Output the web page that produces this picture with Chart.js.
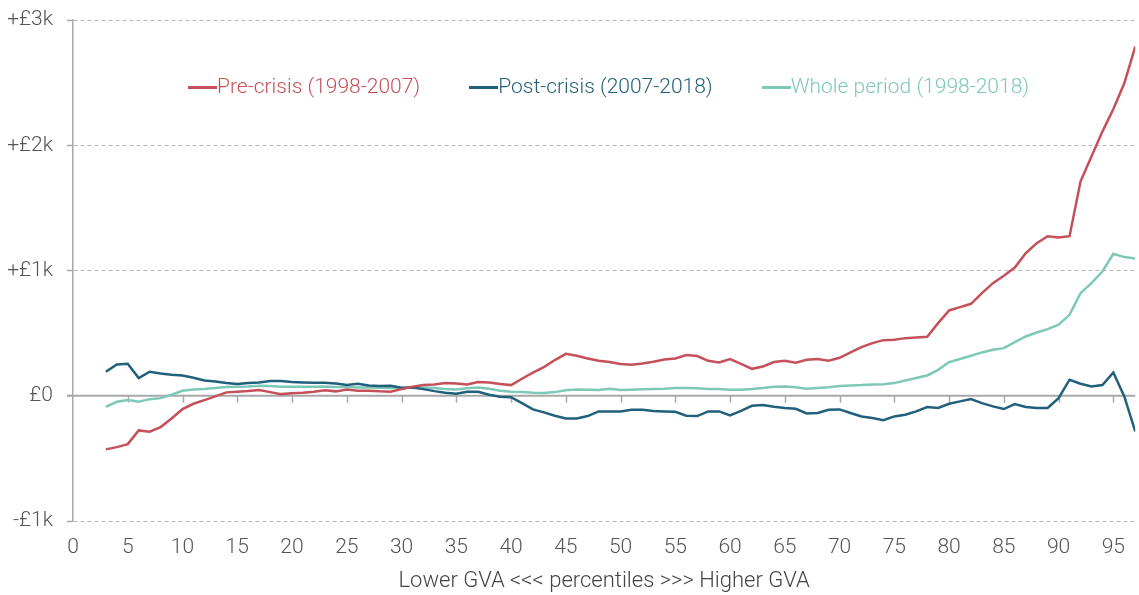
<!DOCTYPE html>
<html lang="en">
<head>
<meta charset="utf-8">
<title>GVA change by percentile</title>
<script src="https://cdn.jsdelivr.net/npm/chart.js@4.4.1/dist/chart.umd.min.js"></script>
<style>
    html, body { margin: 0; padding: 0; background: #fff; }
    #wrap { position: relative; width: 1139px; height: 595px; }
    #legend {
        position: absolute; top: 73px; left: 188px;
        display: flex; gap: 49px;
        font-family: Roboto, "Noto Sans", sans-serif; font-weight: 300; font-size: 21px; line-height: 26px;
    }
    #legend span.item { display: flex; align-items: center; white-space: nowrap; }
    #legend span.swatch { display: inline-block; width: 29px; height: 3px; margin-top: 3px; }
</style>
</head>
<body>
<div id="wrap">
    <canvas id="gvaChart"></canvas>
    <div id="legend"></div>
</div>
<script>
/* ===== DATOS ===== */
const percentiles = [3, 4, 5, 6, 7, 8, 9, 10, 11, 12, 13, 14, 15, 16, 17, 18, 19, 20, 21, 22, 23, 24, 25, 26, 27, 28, 29, 30,
    31, 32, 33, 34, 35, 36, 37, 38, 39, 40, 41, 42, 43, 44, 45, 46, 47, 48, 49, 50, 51, 52, 53, 54, 55, 56, 57, 58, 59, 60,
    61, 62, 63, 64, 65, 66, 67, 68, 69, 70, 71, 72, 73, 74, 75, 76, 77, 78, 79, 80, 81, 82, 83, 84, 85, 86, 87, 88, 89, 90,
    91, 92, 93, 94, 95, 96, 97];

// Pre-crisis (1998-2007)
const preCrisis = [-428, -410, -386, -277, -287, -250, -181, -106, -64, -35, -5, 27, 32, 37, 45, 29, 13, 19, 24, 32, 43, 35, 50, 40, 40,
    35, 32, 53, 72, 85, 90, 101, 98, 90, 109, 106, 93, 85, 136, 184, 229, 285, 335, 319, 298, 279, 269, 253,
    247, 258, 271, 290, 298, 325, 317, 279, 266, 293, 255, 215, 234, 269, 279, 263, 287, 293, 279, 303, 346, 388, 420, 444,
    447, 460, 466, 471, 580, 681, 708, 734, 819, 899, 958, 1024, 1138, 1218, 1274, 1264, 1274, 1710, 1910, 2109, 2290, 2495, 2788];

// Post-crisis (2007-2018)
const postCrisis = [192, 250, 255, 141, 192, 178, 168, 162, 144, 122, 114, 101, 93, 101, 106, 117, 117, 109, 106, 104, 104, 98, 85, 96, 82,
    77, 80, 64, 66, 53, 37, 24, 16, 32, 32, 8, -8, -11, -59, -109, -133, -160, -181, -181, -162, -125, -125, -125,
    -112, -112, -122, -125, -128, -160, -162, -125, -125, -157, -120, -80, -74, -88, -98, -104, -141, -138, -112, -109, -138, -165, -178, -196,
    -165, -152, -125, -90, -98, -64, -45, -27, -59, -85, -106, -66, -90, -98, -98, -19, 128, 96, 74, 85, 186, -5, -285];

// Whole period (1998-2018)
const wholePeriod = [-88, -48, -35, -48, -27, -19, 8, 40, 50, 53, 61, 69, 72, 74, 80, 77, 72, 72, 72, 72, 74, 69, 69, 66, 66,
    64, 61, 59, 66, 66, 61, 53, 50, 59, 66, 56, 40, 32, 29, 24, 21, 29, 43, 50, 48, 45, 56, 46,
    48, 51, 53, 56, 61, 61, 59, 53, 53, 48, 48, 53, 61, 72, 74, 67, 56, 61, 67, 77, 82, 85, 90, 92,
    101, 122, 141, 162, 207, 269, 293, 319, 346, 367, 380, 428, 473, 505, 532, 567, 646, 819, 899, 992, 1133, 1107, 1096];

const seriesLabels = ['Pre-crisis (1998-2007)', 'Post-crisis (2007-2018)', 'Whole period (1998-2018)'];
const seriesColors = ['#c6505a', '#21607a', '#7ec8b7'];

const yTickLabels = { '-1000': '-£1k', '0': '£0', '1000': '+£1k', '2000': '+£2k', '3000': '+£3k' };
const xTitle = 'Lower GVA <<< percentiles >>> Higher GVA';

const FONT = 'Roboto, "Noto Sans", sans-serif';

// Línea de cero con marcas del eje x
const zeroAxisPlugin = {
    id: 'zeroAxis',
    beforeDatasetsDraw(chart) {
        const { ctx, scales: { x, y }, chartArea } = chart;
        const y0 = y.getPixelForValue(0);
        ctx.save();
        ctx.strokeStyle = '#a8a8a8';
        ctx.lineWidth = 2;
        ctx.beginPath();
        ctx.moveTo(chartArea.left - 6, y0);
        ctx.lineTo(chartArea.right, y0);
        ctx.stroke();
        ctx.lineWidth = 1.5;
        x.ticks.forEach(t => {
            if (t.value === 0) return;
            const px = Math.round(x.getPixelForValue(t.value)) + 0.5;
            ctx.beginPath();
            ctx.moveTo(px, y0);
            ctx.lineTo(px, y0 + 7);
            ctx.stroke();
        });
        ctx.restore();
    }
};

function buildSeries(values) {
    return percentiles.map((p, i) => ({ x: p, y: values[i] }));
}

document.addEventListener('DOMContentLoaded', () => {
    const allValues = [preCrisis, postCrisis, wholePeriod];

    const chart = new Chart(document.getElementById('gvaChart'), {
        type: 'line',
        data: {
            datasets: allValues.map((vals, i) => ({
                label: seriesLabels[i],
                data: buildSeries(vals),
                borderColor: seriesColors[i],
                backgroundColor: seriesColors[i],
                borderWidth: 2.5,
                pointRadius: 0,
                tension: 0,
                fill: false
            }))
        },
        options: {
            responsive: true,
            maintainAspectRatio: false,
            animation: false,
            layout: { padding: { top: 20, right: 0, bottom: 0, left: 0 } },
            plugins: {
                legend: { display: false },
                tooltip: { enabled: false }
            },
            scales: {
                x: {
                    type: 'linear',
                    min: 0,
                    max: 97,
                    afterFit(scale) { scale.height = 74; },
                    grid: { display: false, drawTicks: false },
                    border: { display: false },
                    ticks: {
                        stepSize: 5,
                        includeBounds: false,
                        padding: 14,
                        color: '#555',
                        font: { family: FONT, size: 21, weight: 300 }
                    },
                    title: {
                        display: true,
                        text: xTitle,
                        color: '#444',
                        padding: { top: 0, bottom: 0 },
                        font: { family: FONT, size: 22, weight: 300 }
                    }
                },
                y: {
                    min: -1000,
                    max: 3000,
                    afterFit(scale) {
                        scale.width = 73;
                        scale.paddingTop = 8;
                        scale.paddingBottom = 8;
                    },
                    grid: {
                        color: ctx => (ctx.tick && ctx.tick.value === 0) ? 'rgba(0,0,0,0)' : '#b8b8b8',
                        lineWidth: 1,
                        tickLength: 6,
                        tickColor: '#a8a8a8',
                        tickWidth: 1.5
                    },
                    border: {
                        display: true,
                        color: '#a8a8a8',
                        width: 1.5,
                        dash: [4, 3]
                    },
                    ticks: {
                        stepSize: 1000,
                        padding: 14,
                        color: '#555',
                        font: { family: FONT, size: 21, weight: 300 },
                        callback: v => yTickLabels[String(v)] || ''
                    }
                }
            }
        },
        plugins: [zeroAxisPlugin]
    });

    // Leyenda en HTML, dentro del área del gráfico
    const legendEl = document.getElementById('legend');
    chart.data.datasets.forEach(ds => {
        const item = document.createElement('span');
        item.className = 'item';
        item.style.color = ds.borderColor;
        const sw = document.createElement('span');
        sw.className = 'swatch';
        sw.style.background = ds.borderColor;
        item.appendChild(sw);
        item.appendChild(document.createTextNode(ds.label));
        legendEl.appendChild(item);
    });
});
</script>
</body>
</html>
